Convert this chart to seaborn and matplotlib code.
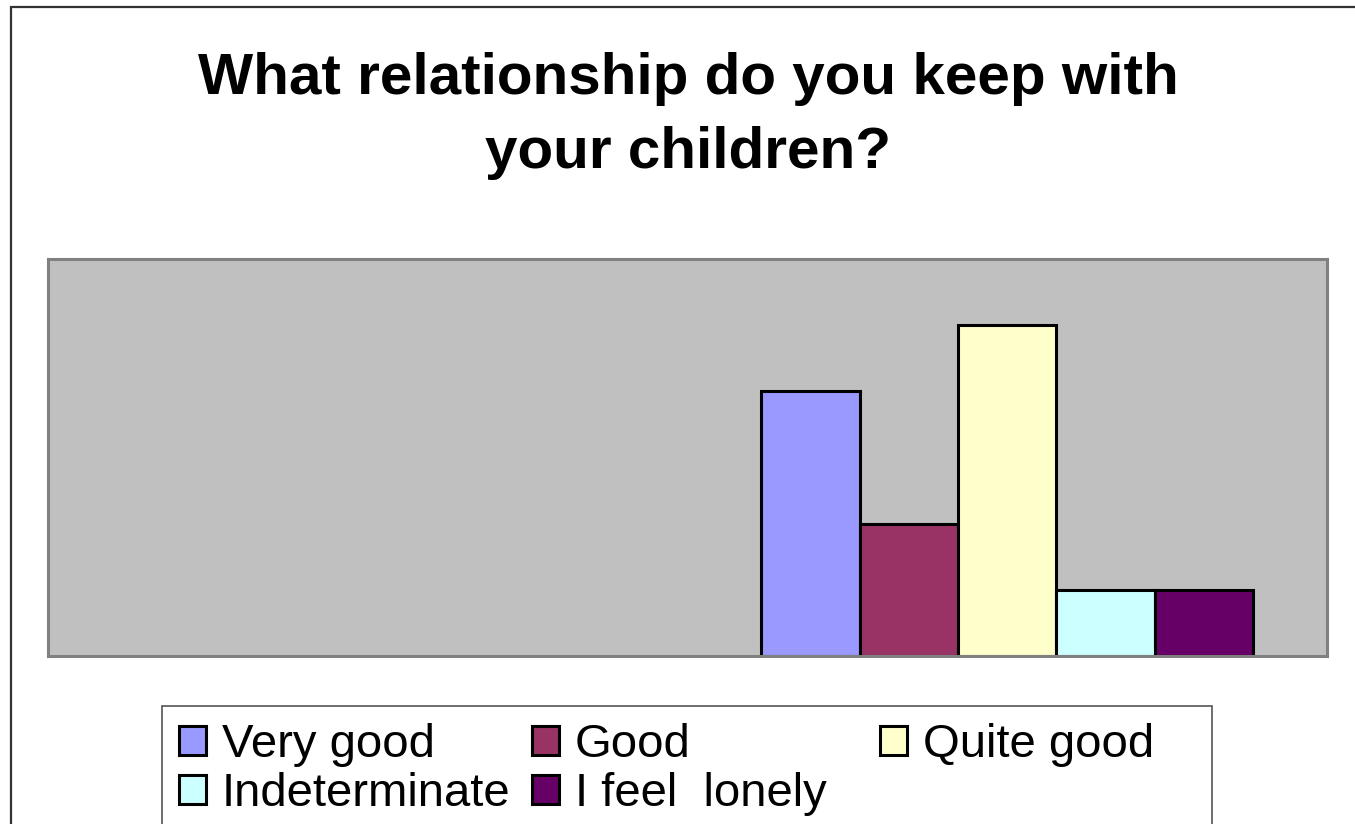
import pandas as pd
import matplotlib
matplotlib.use("Agg")
import matplotlib.pyplot as plt
import matplotlib.patches as mpatches
import seaborn as sns

# survey answers (number of people)
answers = ["Very good", "Good", "Quite good", "Indeterminate", "I feel  lonely"]
counts = [4, 2, 5, 1, 1]
colors = ["#9999FF", "#993366", "#FFFFCC", "#CCFFFF", "#660066"]
groups = ["", "children"]   # first category is empty in the original chart

df = pd.DataFrame({"group": "children", "answer": answers, "count": counts})

sns.set_style("white")
plt.rcParams["font.family"] = ["Liberation Sans", "DejaVu Sans"]
plt.rcParams["text.color"] = "black"

W, H = 1355, 824
fig = plt.figure(figsize=(W / 100, H / 100), dpi=100)
ax = fig.add_axes([48 / W, 1 - 656 / H, (1327 - 48) / W, (656 - 259) / H])

sns.barplot(data=df, x="group", y="count", hue="answer", order=groups,
            hue_order=answers, palette=colors, width=0.77, saturation=1,
            edgecolor="black", linewidth=2.2, legend=True, ax=ax)

ax.set_facecolor("#C0C0C0")
ax.set_ylim(0, 6)
ax.set_xlim(-0.5, 1.5)
ax.set_xticks([])
ax.set_yticks([])
ax.set_xlabel("")
ax.set_ylabel("")
for sp in ax.spines.values():
    sp.set_visible(True)
    sp.set_color("#808080")
    sp.set_linewidth(2.2)

handles, labels = ax.get_legend_handles_labels()
ax.get_legend().remove()

# legend: three fixed-width columns like the original, one legend per column
columns = [[0, 3], [1, 4], [2]]
col_x = [179, 532, 880]
for idx, x in zip(columns, col_x):
    lg = fig.legend([handles[i] for i in idx], [labels[i] for i in idx],
                    loc="upper left", bbox_to_anchor=(x / W, 1 - 723 / H),
                    fontsize=34, frameon=False, handlelength=0.57,
                    handleheight=0.57, handletextpad=0.34, labelspacing=0.1,
                    borderpad=0, borderaxespad=0)
fig.patches.append(mpatches.Rectangle((162 / W, -0.1), (1212 - 162) / W, 0.1 + 1 - 706 / H,
                                      transform=fig.transFigure, fill=False,
                                      edgecolor="#555555", linewidth=1.2))

fig.text(688 / W, 1 - 116 / H, "What relationship do you keep with\nyour children?",
         ha="center", va="center", fontsize=42, fontweight="bold", linespacing=1.46)

# outer chart border (cut off at right and bottom in the original)
fig.patches.append(mpatches.Rectangle((11 / W, -0.1), 1.2, 1.1 - 7 / H,
                                      transform=fig.transFigure, fill=False,
                                      edgecolor="#333333", linewidth=1.6))

fig.savefig("out.png", dpi=100)
